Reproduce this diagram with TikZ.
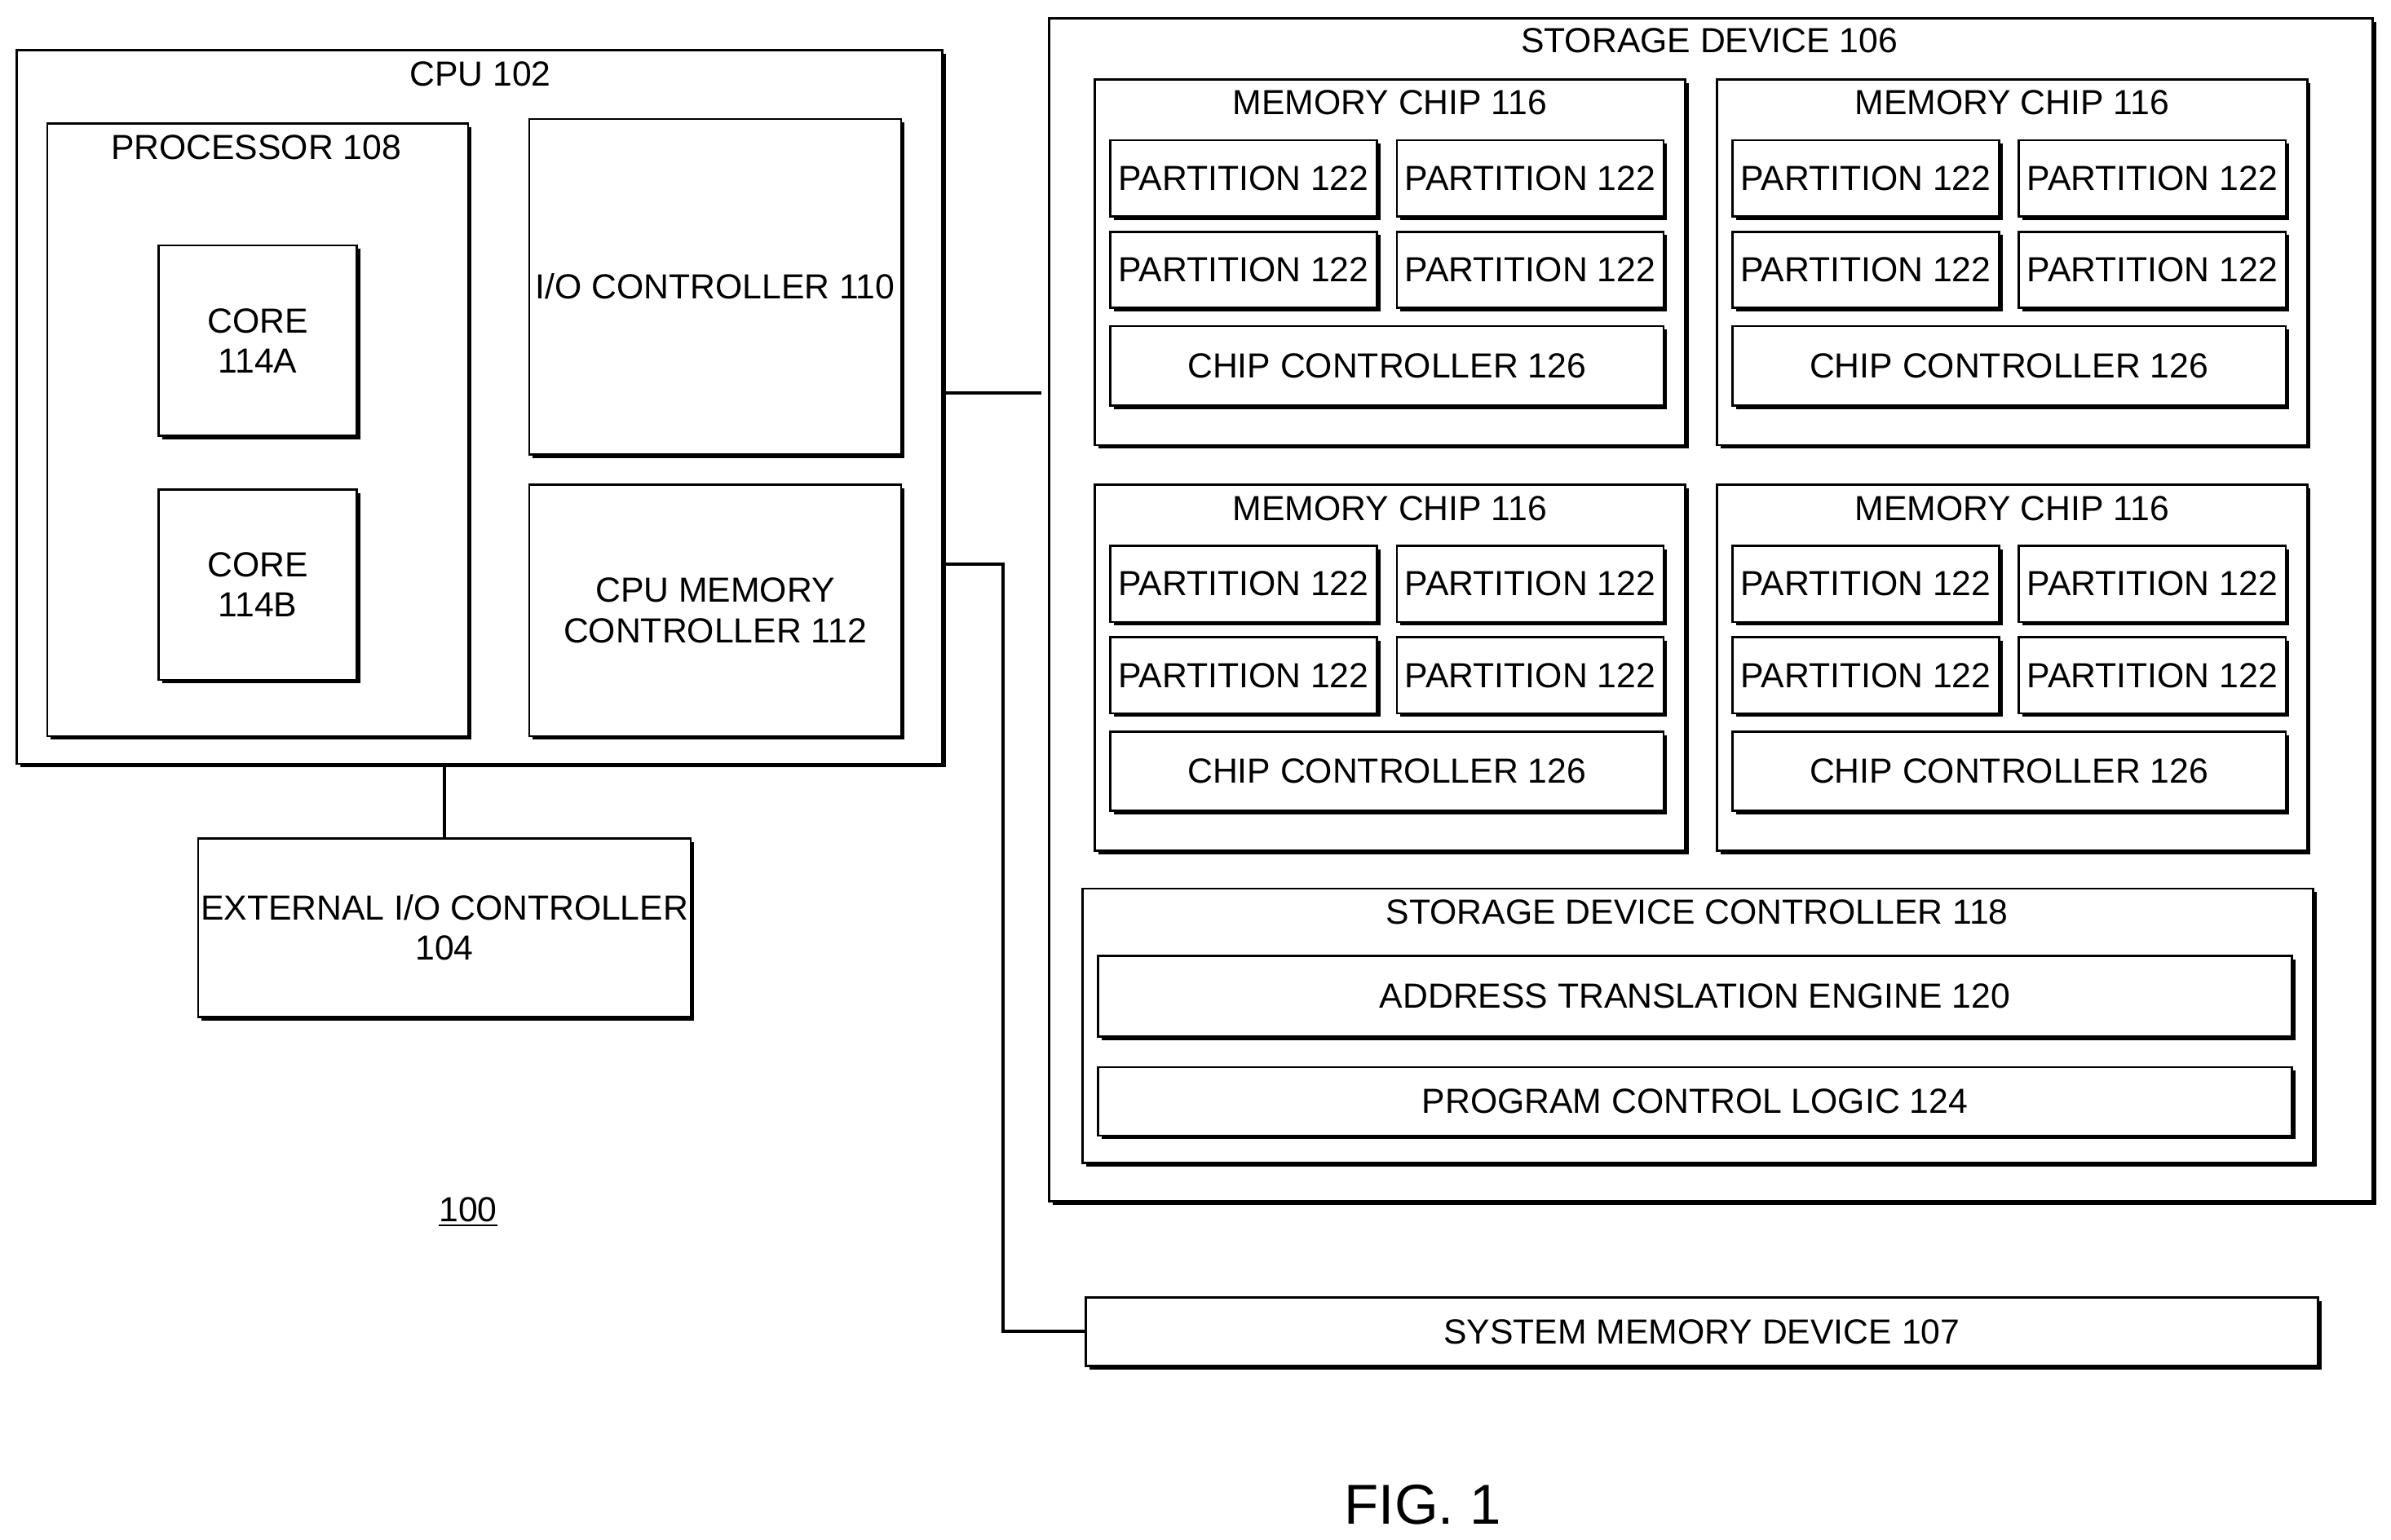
\documentclass[tikz,border=0pt]{standalone}
\usepackage{fontspec}
\setmainfont{Liberation Sans}
\usetikzlibrary{shadows,calc}
\tikzset{
  blk/.style args={#1x#2}{draw, fill=white, thick, inner sep=0pt, align=center,
    minimum width=#1*0.02cm, minimum height=#2*0.02cm,
    drop shadow={shadow xshift=1.3pt, shadow yshift=-1.3pt, opacity=1, fill=black}},
  ttl/.style={anchor=north, inner sep=0pt},
  wire/.style={very thick}
}
\begin{document}
\begin{tikzpicture}[x=0.02cm, y=-0.02cm, font=\fontsize{13}{15}\selectfont]
  \useasboundingbox (0,0) rectangle (1568,1010);

  % cpu side
  \node[blk=607x468] (cpu) at (314.5,267) {};
  \node[ttl] at (315,40) {CPU 102};
  \node[blk=276x402] (proc) at (169,282) {};
  \node[ttl] at (168,88) {PROCESSOR 108};
  \node[blk=130x125] (corea) at (169,223.5) {CORE\\114A};
  \node[blk=130x125] (coreb) at (169,383.5) {CORE\\114B};
  \node[blk=244x220] (io) at (469,188) {I/O CONTROLLER 110};
  \node[blk=244x165] (cmc) at (469,400.5) {CPU MEMORY\\CONTROLLER 112};
  \node[blk=323x117] (extio) at (291.5,608.5) {EXTERNAL I/O CONTROLLER\\104};

  % storage device
  \node[blk=868x776] (sd) at (1122,400) {};
  \node[ttl] at (1121,18) {STORAGE DEVICE 106};
  \foreach \cx/\cy/\n in {718/52/a, 1126/52/b, 718/318/c, 1126/318/d} {
    \node[blk=387x240] (chip\n) at ({\cx+193.5},{\cy+120}) {};
    \node[ttl] at ({\cx+193.5},{\cy+7}) {MEMORY CHIP 116};
    \node[blk=175x50] (p\n1) at ({\cx+97.5},{\cy+65}) {PARTITION 122};
    \node[blk=175x50] (p\n2) at ({\cx+285.5},{\cy+65}) {PARTITION 122};
    \node[blk=175x50] (p\n3) at ({\cx+97.5},{\cy+125}) {PARTITION 122};
    \node[blk=175x50] (p\n4) at ({\cx+285.5},{\cy+125}) {PARTITION 122};
    \node[blk=363x52] (cc\n) at ({\cx+191.5},{\cy+188}) {CHIP CONTROLLER 126};
  }
  \node[blk=807x180] (sdc) at (1113.5,673) {};
  \node[ttl] at (1113,590) {STORAGE DEVICE CONTROLLER 118};
  \node[blk=783x53] (ate) at (1111.5,653.5) {ADDRESS TRANSLATION ENGINE 120};
  \node[blk=783x45] (pcl) at (1111.5,722.5) {PROGRAM CONTROL LOGIC 124};

  \node[blk=808x45] (sysmem) at (1116,873.5) {SYSTEM MEMORY DEVICE 107};

  % connectors
  \coordinate (bend) at (658,873.5);
  \draw[wire] (cpu.east |- 0,258) -- (683,258);
  \draw[wire] (cpu.east |- 0,370) -| (bend) -- (sysmem.west);
  \draw[wire] (cpu.south -| extio.north) -- (extio.north);

  \node (ref) at (307,795) {\underline{100}};
  \node (fig) at (933,987) {\fontsize{21}{25}\selectfont FIG. 1};
\end{tikzpicture}
\end{document}
